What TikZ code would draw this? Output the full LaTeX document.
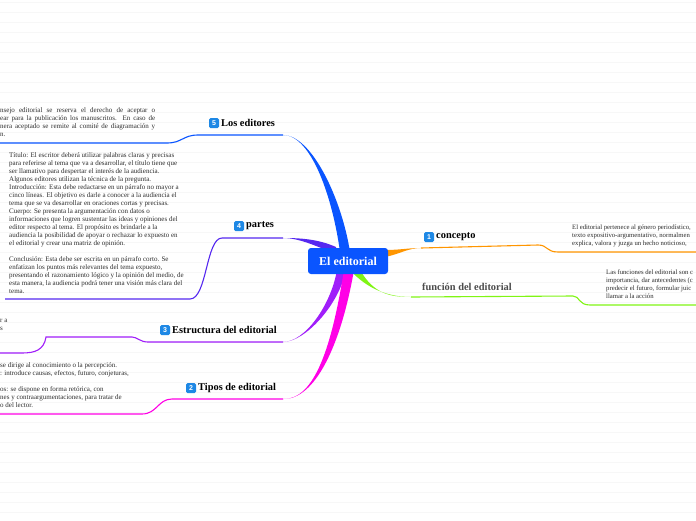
\documentclass[tikz,border=0pt]{standalone}
\usepackage{fontspec}
\setmainfont{Liberation Serif}
\newfontfamily\iconfont{Liberation Sans}
\definecolor{cblue}{RGB}{10,85,255}
\definecolor{cindigo}{RGB}{85,40,240}
\definecolor{cpurple}{RGB}{160,30,250}
\definecolor{cmagenta}{RGB}{255,0,230}
\definecolor{corange}{RGB}{255,150,0}
\definecolor{cgreen}{RGB}{128,245,20}
\definecolor{iconblue}{RGB}{30,136,229}
\definecolor{txtgray}{RGB}{45,45,45}
\definecolor{rule}{RGB}{247,247,247}
\newcommand\taper[7]{\fill[#1] #2 .. controls #4 and #6 .. #7 .. controls #6 and #5 .. #3 -- cycle;}
\newcommand\jline[1]{\makebox[155pt][s]{#1}}
\begin{document}
\begin{tikzpicture}[x=1pt,y=-1pt,
  lbl/.style={font=\fontsize{10.4}{12}\selectfont\bfseries, anchor=west, inner sep=0},
  icon/.style={fill=iconblue, rounded corners=1.5pt, minimum size=10pt, inner sep=0, text=white, font=\iconfont\bfseries\fontsize{7}{7}\selectfont},
  txt/.style={font=\fontsize{7}{8}\selectfont, text=txtgray, align=left, inner sep=0, anchor=north west},
  rtxt/.style={txt, font=\fontsize{6.7}{8}\selectfont},
  thin/.style={line width=1.1pt}]
\useasboundingbox (0,0) rectangle (696,520);
\fill[white] (0,0) rectangle (696,520);
\foreach \y in {2.7,12.7,...,520} \draw[rule, line width=1.2pt] (0,\y) -- (696,\y);

% branch coordinates
\coordinate (e5) at (283,135);
\coordinate (e4) at (283,238);
\coordinate (e3) at (283,342);
\coordinate (e2) at (283,399);
\coordinate (e1) at (421,248);
\coordinate (ef) at (411,297);

% tapered branches
\taper{cblue}{(340,252)}{(350,252)}{(333,200)}{(342,200)}{(312,135)}{(e5)}
\taper{cindigo}{(336,247)}{(336,254)}{(318,239)}{(318,247)}{(300,238)}{(e4)}
\taper{cpurple}{(337,270)}{(346,270)}{(331,305)}{(339,305)}{(305,342)}{(e3)}
\taper{cmagenta}{(344,270)}{(354,270)}{(332,345)}{(341,345)}{(315,400)}{(e2)}
\taper{corange}{(385,250)}{(385,257)}{(400,250)}{(400,254)}{(408,248)}{(e1)}
\taper{cgreen}{(350,270)}{(360,270)}{(368,290)}{(374,294)}{(390,297)}{(ef)}

% thin underlines
\draw[cblue,thin] (e5) -- (198,135) .. controls (183,135) and (182,143) .. (167,143) -- (0,143);
\draw[cindigo,thin] (e4) -- (222,238) .. controls (206,238) and (207,299) .. (190,299) -- (5,299);
\draw[cpurple,thin] (e3) -- (148,342) .. controls (140,342) and (137,337) .. (132,337) -- (46,337) .. controls (44,350) and (35,353) .. (22,353) -- (0,353);
\draw[cmagenta,thin] (e2) -- (172,399) .. controls (158,399) and (157,414) .. (142,414) -- (0,414);
\draw[corange,thin] (e1) .. controls (480,246) .. (538,245) .. controls (548,245) and (546,252) .. (558,252) -- (696,252);
\draw[cgreen,thin] (ef) -- (573,296) .. controls (580,296) and (578,305) .. (590,305) -- (696,305);

% central node
\node[fill=cblue, rounded corners=3pt, minimum width=80pt, minimum height=26pt, text=white,
  font=\fontsize{12}{14}\selectfont\bfseries] (c) at (348,261) {El editorial};

% labels
\node[icon] (i5) at (214,123) {5};
\node[lbl] (l5) at (221,123) {Los editores};
\node[icon] (i4) at (239,226) {4};
\node[lbl] (l4) at (246,226) {partes};
\node[icon] (i3) at (165,330) {3};
\node[lbl] (l3) at (172,330) {Estructura del editorial};
\node[icon] (i2) at (191,388) {2};
\node[lbl] (l2) at (198,388) {Tipos de editorial};
\node[icon] (i1) at (429,237) {1};
\node[lbl] (l1) at (436,237) {concepto};
\node[lbl, text=black!70] (lf) at (422,287) {función del editorial};

% text blocks
\node[txt] (t5) at (0,107.5) {\jline{nsejo editorial se reserva el derecho de aceptar o}\\\jline{ear para la publicación los manuscritos. En caso de}\\\jline{nera aceptado se remite al comité de diagramación y}\\n.};
\node[txt] (t4) at (9,152.5) {Título: El escritor deberá utilizar palabras claras y precisas\\para referirse al tema que va a desarrollar, el título tiene que\\ser llamativo para despertar el interés de la audiencia.\\Algunos editores utilizan la técnica de la pregunta.\\Introducción: Esta debe redactarse en un párrafo no mayor a\\cinco líneas. El objetivo es darle a conocer a la audiencia el\\tema que se va desarrollar en oraciones cortas y precisas.\\Cuerpo: Se presenta la argumentación con datos o\\informaciones que logren sustentar las ideas y opiniones del\\editor respecto al tema. El propósito es brindarle a la\\audiencia la posibilidad de apoyar o rechazar lo expuesto en\\el editorial y crear una matriz de opinión.\\[8pt]Conclusión: Esta debe ser escrita en un párrafo corto. Se\\enfatizan los puntos más relevantes del tema expuesto,\\presentando el razonamiento lógico y la opinión del medio, de\\esta manera, la audiencia podrá tener una visión más clara del\\tema.};
\node[txt] (t3) at (0,318.5) {r a\\s};
\node[txt] (t2) at (0,362.5) {se dirige al conocimiento o la percepción.\\: introduce causas, efectos, futuro, conjeturas,\\[8pt]os: se dispone en forma retórica, con\\nes y contraargumentaciones, para tratar de\\o del lector.};
\node[rtxt] (t1) at (572,224.5) {El editorial pertenece al género periodístico,\\texto expositivo-argumentativo, normalmen\\explica, valora y juzga un hecho noticioso,};
\node[rtxt] (tf) at (606,269.5) {Las funciones del editorial son c\\importancia, dar antecedentes (c\\predecir el futuro, formular juic\\llamar a la acción};
\end{tikzpicture}
\end{document}
